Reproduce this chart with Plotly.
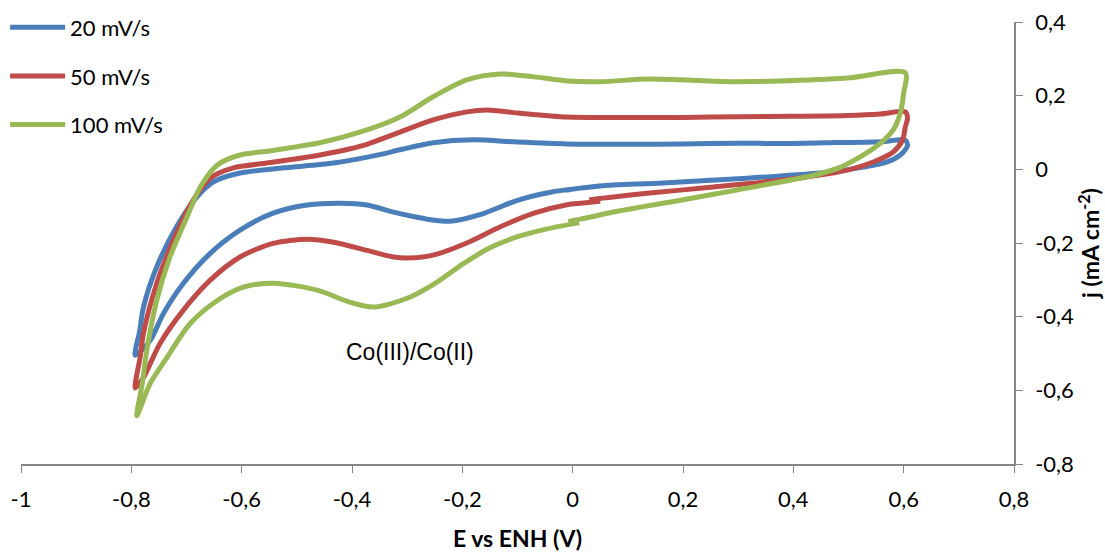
import plotly.graph_objects as go

# ---------------- data ----------------
series_names = ["20 mV/s", "50 mV/s", "100 mV/s"]
series_colors = ["#4A7EBB", "#BE4B48", "#98B954"]

# 20 mV/s : cathodic branch (from ~0.05 V to -0.79 V), anodic branch, return
e_20 = [0.05, 0.014, -0.04, -0.1, -0.162, -0.222, -0.252, -0.282, -0.325, -0.373, -0.421, -0.481,
        -0.543, -0.603, -0.657, -0.706, -0.742, -0.766, -0.793,
        -0.785, -0.778, -0.754, -0.718, -0.681, -0.651, -0.603, -0.524, -0.433, -0.35,
        -0.313, -0.253, -0.18, -0.1, -0.01, 0.1, 0.2, 0.3, 0.376, 0.46, 0.558, 0.603,
        0.607, 0.605, 0.594, 0.57, 0.527, 0.467, 0.316, 0.164, 0.05, 0.014, -0.01]
j_20 = [-0.045, -0.051, -0.062, -0.084, -0.12, -0.141, -0.138, -0.13, -0.116, -0.097, -0.092, -0.097,
        -0.119, -0.165, -0.228, -0.31, -0.392, -0.465, -0.505,
        -0.44, -0.374, -0.265, -0.156, -0.075, -0.034, -0.01, 0.004, 0.017, 0.04,
        0.053, 0.072, 0.08, 0.074, 0.069, 0.068, 0.069, 0.071, 0.07, 0.072, 0.075, 0.079,
        0.065, 0.058, 0.039, 0.02, 0.006, -0.007, -0.024, -0.037, -0.045, -0.051, -0.056]

# 50 mV/s
e_50 = [0.05, 0.014, -0.01, -0.07, -0.131, -0.192, -0.253, -0.301, -0.325, -0.373, -0.433, -0.481,
        -0.543, -0.603, -0.657, -0.706, -0.748, -0.778, -0.793,
        -0.784, -0.778, -0.754, -0.724, -0.688, -0.657, -0.615, -0.554, -0.494, -0.458, -0.403, -0.373,
        -0.313, -0.253, -0.192, -0.155, -0.1, -0.01, 0.1, 0.2, 0.3, 0.4, 0.5, 0.558, 0.603,
        0.607, 0.603, 0.598, 0.581, 0.545, 0.498, 0.407, 0.255, 0.135, 0.062, 0.045, 0.03]
j_50 = [-0.087, -0.092, -0.096, -0.119, -0.156, -0.2, -0.233, -0.241, -0.238, -0.22, -0.198, -0.19,
        -0.201, -0.238, -0.301, -0.383, -0.473, -0.565, -0.594,
        -0.51, -0.445, -0.31, -0.193, -0.084, -0.024, 0.004, 0.017, 0.03, 0.039, 0.056, 0.068,
        0.101, 0.134, 0.156, 0.161, 0.153, 0.142, 0.141, 0.141, 0.143, 0.144, 0.146, 0.15, 0.156,
        0.14, 0.115, 0.08, 0.047, 0.02, -0.002, -0.024, -0.048, -0.065, -0.077, -0.08, -0.083]

# 100 mV/s
e_100 = [0.012, 0.0, -0.05, -0.1, -0.15, -0.2, -0.25, -0.3, -0.361, -0.403, -0.463, -0.543,
         -0.597, -0.644, -0.693, -0.735, -0.766, -0.79,
         -0.78, -0.772, -0.754, -0.73, -0.699, -0.675, -0.644, -0.603, -0.55, -0.494, -0.458, -0.373,
         -0.313, -0.253, -0.192, -0.131, -0.07, -0.01, 0.05, 0.135, 0.195, 0.286, 0.376, 0.498, 0.603,
         0.6, 0.594, 0.581, 0.558, 0.527, 0.486, 0.437, 0.316, 0.195, 0.074, 0.022, 0.008, -0.008]
j_100 = [-0.145, -0.148, -0.163, -0.183, -0.213, -0.258, -0.31, -0.35, -0.374, -0.361, -0.328, -0.309,
         -0.32, -0.356, -0.418, -0.51, -0.582, -0.669,
         -0.58, -0.492, -0.356, -0.238, -0.129, -0.048, 0.012, 0.039, 0.05, 0.063, 0.072, 0.107,
         0.142, 0.197, 0.243, 0.259, 0.251, 0.24, 0.238, 0.245, 0.243, 0.238, 0.24, 0.248, 0.262,
         0.207, 0.153, 0.107, 0.071, 0.039, 0.006, -0.016, -0.051, -0.084, -0.116, -0.133, -0.137, -0.142]

x_tick_vals = [-1, -0.8, -0.6, -0.4, -0.2, 0, 0.2, 0.4, 0.6, 0.8]
x_tick_text = ["-1", "-0,8", "-0,6", "-0,4", "-0,2", "0", "0,2", "0,4", "0,6", "0,8"]
y_tick_vals = [-0.8, -0.6, -0.4, -0.2, 0, 0.2, 0.4]
y_tick_text = ["-0,8", "-0,6", "-0,4", "-0,2", "0", "0,2", "0,4"]

x_title = "E vs ENH (V)"
y_title = "j (mA cm<sup>-2</sup>)"
peak_label = "Co(III)/Co(II)"
peak_label_pos = (-0.294, -0.497)

# ---------------- figure ----------------
fig = go.Figure()
for name, color, xs, ys in zip(series_names, series_colors,
                               [e_20, e_50, e_100], [j_20, j_50, j_100]):
    fig.add_trace(go.Scatter(
        x=xs, y=ys, mode="lines", name=name, legendgroup=name,
        line=dict(color=color, width=5, shape="spline", smoothing=0.8, simplify=False),
    ))

axis_color = "#868686"
tick_font = dict(family="Lato", size=22, color="#000000")
title_font = dict(family="Lato", size=23, color="#000000", weight="bold")

fig.update_layout(
    width=1105, height=552,
    margin=dict(l=21, r=91, t=22, b=88, autoexpand=False),
    paper_bgcolor="white", plot_bgcolor="white",
    showlegend=True,
    legend=dict(x=-0.016, y=1.035, xanchor="left", yanchor="top",
                font=dict(family="Lato", size=22, color="#000000"),
                bgcolor="rgba(0,0,0,0)", tracegroupgap=17, traceorder="grouped",
                itemwidth=55),
    xaxis=dict(range=[-1, 0.8], tickvals=x_tick_vals, ticktext=x_tick_text,
               showgrid=False, zeroline=False, showline=True, linecolor=axis_color, linewidth=1.5,
               ticks="outside", ticklen=7, tickcolor=axis_color, tickwidth=1.2,
               tickfont=tick_font, ticklabelstandoff=8,
               title=dict(text=x_title, font=title_font, standoff=20)),
    yaxis=dict(range=[-0.8, 0.4], tickvals=y_tick_vals, ticktext=y_tick_text, side="right",
               showgrid=False, zeroline=False, showline=True, linecolor=axis_color, linewidth=1.5,
               ticks="outside", ticklen=7, tickcolor=axis_color, tickwidth=1.2,
               tickfont=tick_font, ticklabelstandoff=8,
               title=dict(text=y_title, font=title_font, standoff=2)),
    annotations=[dict(x=peak_label_pos[0], y=peak_label_pos[1], xref="x", yref="y",
                      text=peak_label, showarrow=False,
                      font=dict(family="Liberation Sans", size=23, color="#000000"))],
)

fig.write_html("out.html", config={"displayModeBar": False},
               post_script="document.body.style.margin='0';")
